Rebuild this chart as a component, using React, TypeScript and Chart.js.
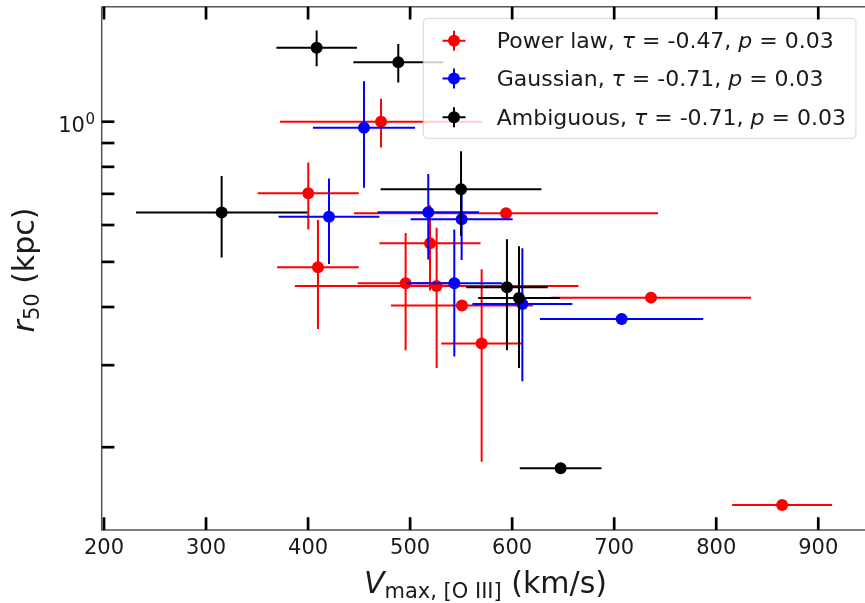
import React, { useEffect, useRef } from 'react';
import { Chart, registerables } from 'chart.js';

Chart.register(...registerables);

// Power law series
const powerX = [471.5, 400.2, 409.7, 594.0, 519.5, 495.6, 526.0, 550.8, 570.1, 736.1, 864.6];
const powerY = [1.0, 0.702, 0.487, 0.636, 0.548, 0.45, 0.444, 0.403, 0.334, 0.419, 0.1503];
const powerXErr = [99, 49.5, 40, 149, 49.5, 47, 139, 69.5, 39.5, 98, 49];
const powerYErr = [0.12, 0.115, 0.128, 0, 0.114, 0.127, 0.148, 0, 0.148, 0, 0];

// Gaussian series
const gaussX = [454.8, 420.5, 517.8, 550.5, 543.3, 610.0, 707.3];
const gaussY = [0.971, 0.625, 0.639, 0.617, 0.45, 0.406, 0.377];
const gaussXErr = [50, 49.4, 49.8, 50, 47, 49, 80];
const gaussYErr = [0.25, 0.13, 0.133, 0.112, 0.137, 0.129, 0];

// Ambiguous series
const ambX = [408.4, 488.4, 315.3, 549.9, 594.9, 606.7, 647.5];
const ambY = [1.442, 1.341, 0.638, 0.716, 0.441, 0.418, 0.1803];
const ambXErr = [39.5, 44, 84, 78.8, 40, 40, 40];
const ambYErr = [0.127, 0.127, 0.127, 0.148, 0.118, 0.122, 0];

const xTickValues = [200, 300, 400, 500, 600, 700, 800, 900];
const yMajorTicks = [1];
const yMinorTicks = [0.2, 0.3, 0.4, 0.5, 0.6, 0.7, 0.8, 0.9];

const seriesLabels = ['Power law', 'Gaussian', 'Ambiguous'];
const seriesTau = ['-0.47', '-0.71', '-0.71'];
const seriesP = ['0.03', '0.03', '0.03'];
const seriesColors = ['#ff0000', '#0000ff', '#000000'];

const X_MIN = 197.75;
const X_MAX = 945.8;
const Y_MIN = 0.1328;
const Y_MAX = 1.766;

const FF = '"DejaVu Sans", "Liberation Sans", sans-serif';

type Run = { text: string; font: string; dy: number };

function runsWidth(ctx: CanvasRenderingContext2D, runs: Run[]) {
  let w = 0;
  for (const r of runs) {
    ctx.font = r.font;
    w += ctx.measureText(r.text).width;
  }
  return w;
}

function drawRuns(ctx: CanvasRenderingContext2D, runs: Run[], x: number, y: number) {
  let cx = x;
  for (const r of runs) {
    ctx.font = r.font;
    ctx.textAlign = 'left';
    ctx.textBaseline = 'alphabetic';
    ctx.fillText(r.text, cx, y + r.dy);
    cx += ctx.measureText(r.text).width;
  }
}

function mkPoints(xs: number[], ys: number[], xe: number[], ye: number[]) {
  return xs.map((x, i) => ({ x, y: ys[i], xerr: xe[i], yerr: ye[i] }));
}

const errorBarPlugin = {
  id: 'errorBars',
  beforeDatasetDraw(chart: any, args: any) {
    const ds = chart.data.datasets[args.index];
    const ctx: CanvasRenderingContext2D = chart.ctx;
    const xs = chart.scales.x;
    const ys = chart.scales.y;
    const a = chart.chartArea;
    ctx.save();
    ctx.beginPath();
    ctx.rect(a.left, a.top, a.right - a.left, a.bottom - a.top);
    ctx.clip();
    ctx.strokeStyle = ds.backgroundColor;
    ctx.lineWidth = 2;
    ctx.lineCap = 'butt';
    for (const p of ds.data) {
      const px = xs.getPixelForValue(p.x);
      const py = ys.getPixelForValue(p.y);
      if (p.xerr) {
        ctx.beginPath();
        ctx.moveTo(xs.getPixelForValue(p.x - p.xerr), py);
        ctx.lineTo(xs.getPixelForValue(p.x + p.xerr), py);
        ctx.stroke();
      }
      if (p.yerr) {
        ctx.beginPath();
        ctx.moveTo(px, ys.getPixelForValue(Math.max(p.y - p.yerr, 1e-3)));
        ctx.lineTo(px, ys.getPixelForValue(p.y + p.yerr));
        ctx.stroke();
      }
    }
    ctx.restore();
  },
};

const axesPlugin = {
  id: 'mplAxes',
  afterDatasetsDraw(chart: any) {
    const ctx: CanvasRenderingContext2D = chart.ctx;
    // legend
    const lx0 = 423.3, ly0 = 18.3, lx1 = 856, ly1 = 138.3, rr = 4;
    ctx.save();
    ctx.beginPath();
    ctx.moveTo(lx0 + rr, ly0);
    ctx.lineTo(lx1 - rr, ly0);
    ctx.quadraticCurveTo(lx1, ly0, lx1, ly0 + rr);
    ctx.lineTo(lx1, ly1 - rr);
    ctx.quadraticCurveTo(lx1, ly1, lx1 - rr, ly1);
    ctx.lineTo(lx0 + rr, ly1);
    ctx.quadraticCurveTo(lx0, ly1, lx0, ly1 - rr);
    ctx.lineTo(lx0, ly0 + rr);
    ctx.quadraticCurveTo(lx0, ly0, lx0 + rr, ly0);
    ctx.closePath();
    ctx.fillStyle = 'rgba(255,255,255,0.8)';
    ctx.fill();
    ctx.strokeStyle = 'rgba(204,204,204,0.8)';
    ctx.lineWidth = 1;
    ctx.stroke();
    const rowY = [40.7, 78.6, 117.3];
    for (let i = 0; i < 3; i++) {
      const cy = rowY[i];
      const mx = 454;
      ctx.strokeStyle = seriesColors[i];
      ctx.fillStyle = seriesColors[i];
      ctx.lineWidth = 2;
      ctx.beginPath();
      ctx.moveTo(mx - 11.5, cy);
      ctx.lineTo(mx + 11.5, cy);
      ctx.moveTo(mx, cy - 10);
      ctx.lineTo(mx, cy + 10);
      ctx.stroke();
      ctx.beginPath();
      ctx.arc(mx, cy, 6, 0, Math.PI * 2);
      ctx.fill();
      ctx.fillStyle = '#1a1a1a';
      const reg = `22px ${FF}`;
      const it = `italic 22px ${FF}`;
      drawRuns(
        ctx,
        [
          { text: seriesLabels[i] + ', ', font: reg, dy: 0 },
          { text: 'τ', font: it, dy: 0 },
          { text: ' = ' + seriesTau[i] + ', ', font: reg, dy: 0 },
          { text: 'p', font: it, dy: 0 },
          { text: ' = ' + seriesP[i], font: reg, dy: 0 },
        ],
        496.7,
        cy + 7.5
      );
    }
    ctx.restore();
  },
  afterDraw(chart: any) {
    const ctx: CanvasRenderingContext2D = chart.ctx;
    const a = chart.chartArea;
    const xs = chart.scales.x;
    const ys = chart.scales.y;
    ctx.save();
    // spines
    ctx.strokeStyle = '#555555';
    ctx.lineWidth = 1.5;
    ctx.beginPath();
    ctx.moveTo(a.left, a.top);
    ctx.lineTo(a.right + 2, a.top);
    ctx.moveTo(a.left, a.top);
    ctx.lineTo(a.left, a.bottom);
    ctx.lineTo(a.right + 2, a.bottom);
    ctx.stroke();
    // ticks
    ctx.strokeStyle = '#000000';
    ctx.lineWidth = 2.7;
    const TL = 12.7;
    for (const t of xTickValues) {
      const px = xs.getPixelForValue(t);
      ctx.beginPath();
      ctx.moveTo(px, a.bottom);
      ctx.lineTo(px, a.bottom - TL);
      ctx.moveTo(px, a.top);
      ctx.lineTo(px, a.top + TL);
      ctx.stroke();
    }
    for (const t of [...yMajorTicks, ...yMinorTicks]) {
      const py = ys.getPixelForValue(t);
      ctx.beginPath();
      ctx.moveTo(a.left, py);
      ctx.lineTo(a.left + TL, py);
      ctx.stroke();
    }
    // tick labels
    ctx.fillStyle = '#1a1a1a';
    ctx.font = `21px ${FF}`;
    ctx.textAlign = 'center';
    ctx.textBaseline = 'alphabetic';
    for (const t of xTickValues) {
      const px = xs.getPixelForValue(t);
      ctx.fillText(String(t), px, 554);
    }
    for (const t of yMajorTicks) {
      const py = ys.getPixelForValue(t);
      const exp = String(Math.round(Math.log10(t)));
      ctx.font = `15px ${FF}`;
      const ew = ctx.measureText(exp).width;
      ctx.textAlign = 'right';
      ctx.fillText(exp, 95, py + 2.5);
      ctx.font = `21px ${FF}`;
      ctx.fillText('10', 95 - ew - 0.5, py + 10.5);
    }
    // x title
    const xRuns: Run[] = [
      { text: 'V', font: `italic 30px ${FF}`, dy: 0 },
      { text: 'max, [O III]', font: `21px ${FF}`, dy: 5 },
      { text: ' (km/s)', font: `30px ${FF}`, dy: 0 },
    ];
    const xw = runsWidth(ctx, xRuns);
    drawRuns(ctx, xRuns, 485.5 - xw / 2, 593);
    // y title
    const yRuns: Run[] = [
      { text: 'r', font: `italic 30px ${FF}`, dy: 0 },
      { text: '50', font: `21px ${FF}`, dy: 5 },
      { text: ' (kpc)', font: `30px ${FF}`, dy: 0 },
    ];
    const yw = runsWidth(ctx, yRuns);
    ctx.translate(34, 270);
    ctx.rotate(-Math.PI / 2);
    drawRuns(ctx, yRuns, -yw / 2, 0);
    ctx.restore();
  },
};

export default function App() {
  const ref = useRef<HTMLCanvasElement | null>(null);
  useEffect(() => {
    if (!ref.current) return;
    const chart = new Chart(ref.current, {
      type: 'scatter',
      data: {
        datasets: [
          {
            label: seriesLabels[0],
            data: mkPoints(powerX, powerY, powerXErr, powerYErr) as any,
            backgroundColor: seriesColors[0],
            borderWidth: 0,
            pointRadius: 6,
            order: 3,
          },
          {
            label: seriesLabels[1],
            data: mkPoints(gaussX, gaussY, gaussXErr, gaussYErr) as any,
            backgroundColor: seriesColors[1],
            borderWidth: 0,
            pointRadius: 6,
            order: 2,
          },
          {
            label: seriesLabels[2],
            data: mkPoints(ambX, ambY, ambXErr, ambYErr) as any,
            backgroundColor: seriesColors[2],
            borderWidth: 0,
            pointRadius: 6,
            order: 1,
          },
        ],
      },
      options: {
        responsive: false,
        animation: false,
        layout: { autoPadding: false, padding: { left: 101.7, top: 6.7, right: 0, bottom: 73 } },
        plugins: { legend: { display: false }, tooltip: { enabled: false }, title: { display: false } },
        scales: {
          x: { type: 'linear', min: X_MIN, max: X_MAX, display: false },
          y: { type: 'logarithmic', min: Y_MIN, max: Y_MAX, display: false },
        },
      },
      plugins: [errorBarPlugin, axesPlugin],
    });
    return () => chart.destroy();
  }, []);
  return (
    <div style={{ position: 'absolute', left: 0, top: 0, width: 865, height: 603, background: '#fff' }}>
      <canvas ref={ref} width={865} height={603} style={{ display: 'block' }} />
    </div>
  );
}
